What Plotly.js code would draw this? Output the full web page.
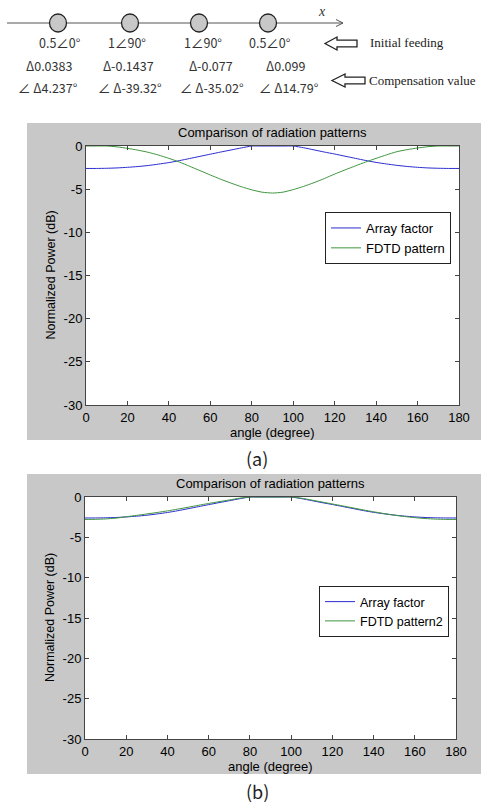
<!DOCTYPE html>
<html><head><meta charset="utf-8">
<script src="https://cdn.plot.ly/plotly-3.0.1.min.js"></script>
<style>html,body{margin:0;padding:0;background:#fff;}#chart{width:481px;height:804px;}</style>
</head><body><div id="chart"></div>
<script>
// ---- data ----
const angle = [0,5,10,15,20,25,30,35,40,45,50,55,60,65,70,75,80,85,90,95,100,105,110,115,120,125,130,135,140,145,150,155,160,165,170,175,180];
const arrayFactor = [-2.6,-2.6,-2.58,-2.54,-2.47,-2.38,-2.26,-2.1,-1.92,-1.7,-1.45,-1.2,-0.95,-0.7,-0.46,-0.22,0,0,0,0,0,-0.2,-0.45,-0.7,-0.93,-1.18,-1.43,-1.68,-1.9,-2.08,-2.24,-2.37,-2.47,-2.54,-2.58,-2.6,-2.6];
const fdtdPattern = [0,0,0,-0.1,-0.27,-0.48,-0.73,-1.05,-1.43,-1.85,-2.35,-2.85,-3.36,-3.85,-4.3,-4.72,-5.08,-5.35,-5.45,-5.35,-5.05,-4.68,-4.25,-3.77,-3.25,-2.77,-2.3,-1.85,-1.43,-1.03,-0.66,-0.42,-0.23,-0.08,0,0,0];
const fdtdPattern2 = [-2.78,-2.77,-2.72,-2.62,-2.45,-2.28,-2.1,-1.92,-1.72,-1.5,-1.27,-1.03,-0.8,-0.58,-0.37,-0.15,0,0,0,0,0,-0.15,-0.38,-0.62,-0.86,-1.1,-1.35,-1.6,-1.83,-2.05,-2.25,-2.42,-2.56,-2.67,-2.74,-2.78,-2.78];
const xTicks = [0,20,40,60,80,100,120,140,160,180];
const yTicks = [0,-5,-10,-15,-20,-25,-30];
const yTickText = ['0','-5','-10','-15','-20','-25','-30'];
const feedLabels = ['0.5∠0°','1∠90°','1∠90°','0.5∠0°'];
const ampComp = ['Δ0.0383','Δ-0.1437','Δ-0.077','Δ0.099'];
const phaseComp = ['∠ Δ4.237°','∠ Δ-39.32°','∠ Δ-35.02°','∠ Δ14.79°'];

// ---- layout helpers (pixel -> paper) ----
const W = 481, H = 804;
const px = x => x / W;
const py = y => 1 - y / H;
const blue = '#2b2bd0', green = '#3f963f';
const sans = 'Liberation Sans, Arial, sans-serif';
const kr = 'Noto Sans CJK KR, Noto Sans, sans-serif';
const serif = 'Liberation Serif, Times New Roman, serif';

const shapes = [];
const annotations = [];
function rect(x0,y0,x1,y1,fill,lineColor){
  shapes.push({type:'rect',xref:'paper',yref:'paper',x0:px(x0),x1:px(x1),y0:py(y1),y1:py(y0),
    fillcolor:fill,line:{width:lineColor?1:0,color:lineColor||fill},layer:'below'});
}
function line(x0,y0,x1,y1,color,w){
  shapes.push({type:'line',xref:'paper',yref:'paper',x0:px(x0),x1:px(x1),y0:py(y0),y1:py(y1),
    line:{color:color,width:w||1}});
}
function text(t,x,y,opts){
  annotations.push(Object.assign({text:t,xref:'paper',yref:'paper',x:px(x),y:py(y),showarrow:false,
    xanchor:'center',yanchor:'middle',font:{family:sans,size:12,color:'#000'}},opts||{}));
}
function blockArrow(tip,yc,headBack,tail){
  const hh=6.5, sh=3.3;
  const pts=[[tip,yc],[headBack,yc-hh],[headBack,yc-sh],[tail,yc-sh],[tail,yc+sh],[headBack,yc+sh],[headBack,yc+hh]];
  const d = 'M ' + pts.map(p=>px(p[0]).toFixed(5)+','+py(p[1]).toFixed(5)).join(' L ') + ' Z';
  shapes.push({type:'path',xref:'paper',yref:'paper',path:d,fillcolor:'#fff',line:{color:'#222',width:1.3}});
}

// ---- top diagram ----
line(7,23,343,23,'#555',1);
line(336,19.5,343,23,'#555',1);
line(336,26.5,343,23,'#555',1);
const circleX = [58,130,199,268];
circleX.forEach(cx=>{
  shapes.push({type:'circle',xref:'paper',yref:'paper',x0:px(cx-8.5),x1:px(cx+8.5),y0:py(32),y1:py(14),
    fillcolor:'#c8c8c8',line:{color:'#222',width:1.3}});
});
text('<i>x</i>',322,11,{font:{family:serif,size:14,color:'#333'},xanchor:'center'});
const feedX = [60,127,203,270];
feedLabels.forEach((t,i)=>text(t,feedX[i],43,{font:{family:kr,size:12.5,color:'#333'}}));
const ampX = [49,128,211,285];
ampComp.forEach((t,i)=>text(t,ampX[i],65,{font:{family:kr,size:12.5,color:'#333'}}));
const phX = [48,130,212,289];
phaseComp.forEach((t,i)=>text(t,phX[i],88,{font:{family:kr,size:12.5,color:'#333'}}));
blockArrow(325,43.5,337,357);
blockArrow(332,80.5,345,365);
text('Initial feeding',368,43,{xanchor:'left',font:{family:serif,size:13,color:'#222'}});
text('Compensation value',367,80,{xanchor:'left',font:{family:serif,size:13,color:'#222'}});

// ---- chart frames ----
const A = {l:86,r:459,t:146,b:405, gt:123, gb:440};
const B = {l:85,r:456,t:497,b:739, gt:474, gb:774};
[A,B].forEach(p=>{
  rect(27,p.gt,481,p.gb,'#c8c8c8');
  rect(p.l,p.t,p.r,p.b,'#ffffff');
  text('Comparison of radiation patterns',(p.l+p.r)/2,p.t-14,{font:{family:sans,size:13,color:'#000'}});
  text('angle (degree)',(p.l+p.r)/2,p.b+27,{font:{family:sans,size:13,color:'#000'}});
  text('Normalized Power (dB)',50,(p.t+p.b)/2,{textangle:-90,font:{family:sans,size:12.5,color:'#000'}});
});
text('(a)',257,458,{font:{family:kr,size:18,color:'#222'}});
text('(b)',257,791,{font:{family:kr,size:18,color:'#222'}});

function xax(p,ya){
  return {domain:[px(p.l),px(p.r)],range:[0,180],tickvals:xTicks,ticks:'inside',ticklen:4,tickcolor:'#444',
    showline:true,linecolor:'#444',linewidth:1,mirror:'ticks',showgrid:false,zeroline:false,anchor:ya,
    tickfont:{family:sans,size:13,color:'#000'},fixedrange:true};
}
function yax(p,xa){
  return {domain:[py(p.b),py(p.t)],range:[-30,0],tickvals:yTicks,ticktext:yTickText,ticks:'inside',ticklen:4,tickcolor:'#444',
    showline:true,linecolor:'#444',linewidth:1,mirror:'ticks',showgrid:false,zeroline:false,anchor:xa,
    tickfont:{family:sans,size:13,color:'#000'},fixedrange:true};
}

const traces = [
  {x:angle,y:arrayFactor,type:'scatter',mode:'lines',name:'Array factor',line:{color:blue,width:1,shape:'spline',smoothing:0.5},xaxis:'x',yaxis:'y',legend:'legend'},
  {x:angle,y:fdtdPattern,type:'scatter',mode:'lines',name:'FDTD pattern',line:{color:green,width:1,shape:'spline',smoothing:0.5},xaxis:'x',yaxis:'y',legend:'legend'},
  {x:angle,y:arrayFactor,type:'scatter',mode:'lines',name:'Array factor',line:{color:blue,width:1,shape:'spline',smoothing:0.5},xaxis:'x2',yaxis:'y2',legend:'legend2'},
  {x:angle,y:fdtdPattern2,type:'scatter',mode:'lines',name:'FDTD pattern2',line:{color:green,width:1,shape:'spline',smoothing:0.5},xaxis:'x2',yaxis:'y2',legend:'legend2'}
];

const legendBase = {xref:'paper',yref:'paper',xanchor:'left',yanchor:'top',bgcolor:'#fff',bordercolor:'#222',borderwidth:1,
  font:{family:sans,size:13,color:'#000'},tracegroupgap:0,itemwidth:30};

const layout = {
  width:W,height:H,margin:{l:0,r:0,t:0,b:0},paper_bgcolor:'#fff',plot_bgcolor:'rgba(0,0,0,0)',
  showlegend:true,
  xaxis:xax(A,'y'), yaxis:yax(A,'x'),
  xaxis2:xax(B,'y2'), yaxis2:yax(B,'x2'),
  legend:Object.assign({x:px(325),y:py(212)},legendBase),
  legend2:Object.assign({x:px(319),y:py(586)},legendBase,{font:{family:sans,size:12.5,color:'#000'}}),
  shapes:shapes, annotations:annotations
};

Plotly.newPlot('chart',traces,layout,{staticPlot:true,displayModeBar:false});
</script>
</body></html>
